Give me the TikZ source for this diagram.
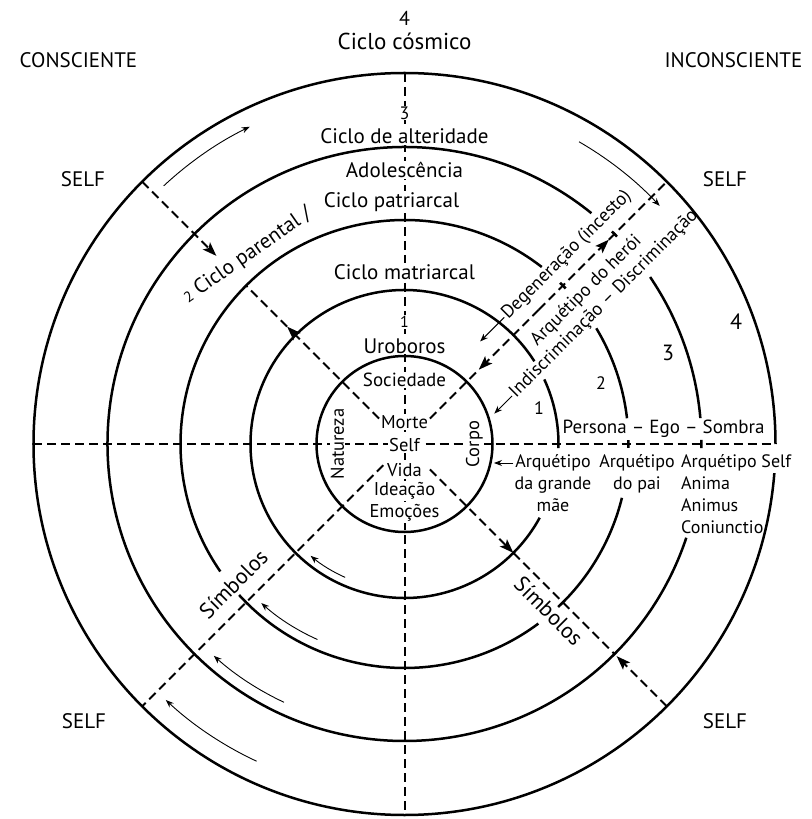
\documentclass[tikz,border=0pt]{standalone}
\usepackage{fontspec}
\setmainfont{PT Sans}
\usetikzlibrary{arrows.meta}

\newcommand{\txtsize}[1]{\fontsize{#1}{22}\selectfont}

\begin{document}
\begin{tikzpicture}[x=1pt,y=1pt,
    ring/.style={line width=2.5pt},
    dashline/.style={line width=2pt, dash pattern=on 9pt off 5pt},
    flow/.style={line width=0.9pt, -{Stealth[length=8pt,width=6pt]}},
    bigtip/.style={-{Stealth[length=14pt,width=10pt,inset=3pt]}},
    lbl/.style={fill=white},
    every node/.style={inner sep=1pt, font=\txtsize{21}}]
  \useasboundingbox (-404.5,-375) rectangle (406.5,444);

  %rings, with the gaps left for the texts
  \draw[ring] (0,0) circle (88);
  \foreach \r/\a/\b in {154/32.5/331.4, 154/-1.5/24.8,
      224/6.6/31.1, 224/44/46, 224/52.2/214.7, 224/222.4/306.7, 224/313.3/346.1, 224/-1/1,
      297/5/34.2, 297/44.3/45.7, 297/51/341.6, 297/-0.8/0.8,
      371/0/355.5}
    \draw[ring] (\a:\r) arc[start angle=\a, end angle=\b, radius=\r];

  %dashed axes
  \draw[dashline] (0,371) -- (0,-371);
  \draw[dashline] (-371,0) -- (371,0);
  \draw[dashline] (225:30) -- (225:371);
  \draw[dashline] (45:36) -- (45:105);
  \draw[dashline,bigtip] (45:190) -- (45:105);
  \draw[dashline,bigtip] (45:190) -- (45:289);
  \draw[dashline] (45:289) -- (45:371);
  \draw[dashline,bigtip] (135:371) -- (135:266);
  \draw[dashline,bigtip] (135:36) -- (135:166);
  \draw[dashline] (135:166) -- (135:224);
  \draw[dashline,bigtip] (315:36) -- (315:154);
  \draw[dashline] (315:154) -- (315:297);
  \draw[dashline,bigtip] (315:371) -- (315:300);

  %thin arrows along the rings
  \draw[flow] (133:353) arc[start angle=133, end angle=116, radius=353];
  \draw[flow] (60:349) arc[start angle=60, end angle=43, radius=349];
  \foreach \r/\a/\b in {146/246/230, 214/246/228, 285/245/228, 350/245/227}
    \draw[flow] (\a:\r) arc[start angle=\a, end angle=\b, radius=\r];

  %top and corners
  \node[font=\txtsize{20}] (top4) at (0,426) {4};
  \node[font=\txtsize{23}] (cosmic) at (0,403) {Ciclo cósmico};
  \node (consc) at (-326,384) {CONSCIENTE};
  \node (inconsc) at (329,384) {INCONSCIENTE};
  \node (selftl) at (-321.5,265) {SELF};
  \node (selftr) at (320.5,265) {SELF};
  \node (selfbl) at (-320.5,-277) {SELF};
  \node (selfbr) at (320.5,-277) {SELF};

  %labels on the vertical axis
  \node[lbl, font=\txtsize{18}] (top3) at (0,331) {3};
  \node[lbl] (alter) at (0,308) {Ciclo de alteridade};
  \node[lbl] (adol) at (0,274) {Adolescência};
  \node[lbl] (patri) at (-13,242) {Ciclo patriarcal};
  \node[rotate=35, anchor=base] (paren) at (-154,184) {{\txtsize{15}2} Ciclo parental /};
  \node[lbl] (matri) at (0,172) {Ciclo matriarcal};
  \node[lbl, font=\txtsize{16}] (top1) at (0,122) {1};
  \node[lbl] (uro) at (0,98) {Uroboros};
  \node[lbl, font=\txtsize{19}] (soc) at (0,64) {Sociedade};

  %centre
  \node[lbl, font=\txtsize{18.5}] (morte) at (0,22) {Morte};
  \node[lbl, font=\txtsize{18.5}] (self) at (0,-1) {Self};
  \node[lbl, font=\txtsize{18.5}] (vida) at (0,-26) {Vida};
  \node[lbl, font=\txtsize{18.5}] (idea) at (0,-47) {Ideação};
  \node[lbl, font=\txtsize{18.5}] (emoc) at (0,-69) {Emoções};
  \node[lbl, rotate=90, font=\txtsize{18.5}] (natur) at (-67,0) {Natureza};
  \node[lbl, rotate=90, font=\txtsize{18.5}] (corpo) at (70,0) {Corpo};

  %right side
  \node[font=\txtsize{18}] (r1) at (134.5,36) {1};
  \node[font=\txtsize{18}] (r2) at (196.5,61) {2};
  \node[font=\txtsize{22}] (r3) at (263.5,91) {3};
  \node[font=\txtsize{22}] (r4) at (331.5,122) {4};
  \node[anchor=west, font=\txtsize{19}] (pes) at (157,15) {Persona – Ego – Sombra};
  \node[anchor=north, align=center, font=\txtsize{18}] (mae) at (148.5,-9) {Arquétipo\\da grande\\mãe};
  \node[anchor=north, align=center, font=\txtsize{18}] (pai) at (232.5,-9) {Arquétipo\\do pai};
  \node[anchor=north west, align=left, font=\txtsize{18}] (arqself) at (275.5,-9) {Arquétipo Self\\Anima\\Animus\\Coniunctio};
  \coordinate (maetip) at (89.5,-19);
  \draw[flow] (mae.west |- maetip) -- (maetip);

  %diagonal texts
  \begin{scope}[rotate=45, transform shape]
    \node[anchor=west, font=\txtsize{18.5}] (degen) at (160,19) {Degeneração (incesto)};
    \node[anchor=west, font=\txtsize{18.5}] (heroi) at (162,-20) {Arquétipo do herói};
    \node[anchor=west, font=\txtsize{18.5}] (indisc) at (110,-42) {Indiscriminação – Discriminação};
    \draw[flow] (degen.west) -- (126,19);
    \draw[flow] (indisc.west) -- (85,-42);
    \node[font=\txtsize{22}] (simbll) at (-220,22) {Símbolos};
  \end{scope}
  \begin{scope}[rotate=-45, transform shape]
    \node[font=\txtsize{22}] (simblr) at (220,-16) {Símbolos};
  \end{scope}
\end{tikzpicture}
\end{document}
